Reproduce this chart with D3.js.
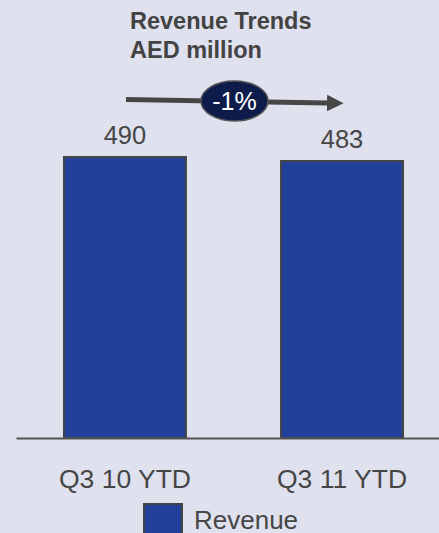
<!DOCTYPE html>
<html>
<head>
<meta charset="utf-8">
<script src="https://cdn.jsdelivr.net/npm/d3@7"></script>
<style>
  html, body { margin: 0; padding: 0; background: #dfe1ee; overflow: hidden; }
  svg { display: block; font-family: "Liberation Sans", Arial, sans-serif; }
</style>
</head>
<body>
<script>
// chart data
var categories = ['Q3 10 YTD', 'Q3 11 YTD'];
var revenue = [490, 483];
var titleLines = ['Revenue Trends', 'AED million'];
var changeLabel = '-1%';
var seriesName = 'Revenue';

var width = 439,
	height = 533;

var svg = d3.select('body')
	.append('svg')
	.attr('width', width)
	.attr('height', height);

svg.append('rect')
	.attr('width', width)
	.attr('height', height)
	.attr('fill', '#dfe1ee');

// scales
var x = d3.scaleBand()
	.domain(categories)
	.range([16, 451])
	.paddingInner(0.438)
	.paddingOuter(0.221);

var y = d3.scaleLinear()
	.domain([0, 500])
	.range([438, 151.25]);

var textColor = '#464646';

// title
svg.append('g')
	.selectAll('text')
	.data(titleLines)
	.enter().append('text')
	.attr('x', 130)
	.attr('y', function(d, i) { return 28.5 + i * 29; })
	.attr('font-size', '23.5px')
	.attr('font-weight', 'bold')
	.attr('fill', '#434343')
	.text(function(d) { return d; });

// bars
var data = categories.map(function(c, i) { return { cat: c, value: revenue[i] }; });

svg.append('g')
	.selectAll('rect')
	.data(data)
	.enter().append('rect')
	.attr('x', function(d) { return x(d.cat); })
	.attr('y', function(d) { return y(d.value); })
	.attr('width', x.bandwidth())
	.attr('height', function(d) { return y(0) - y(d.value); })
	.attr('fill', '#22409a')
	.attr('stroke', '#454545')
	.attr('stroke-width', 2);

// value labels
svg.append('g')
	.selectAll('text')
	.data(data)
	.enter().append('text')
	.attr('x', function(d) { return x(d.cat) + x.bandwidth() / 2; })
	.attr('y', function(d) { return y(d.value) - 13; })
	.attr('text-anchor', 'middle')
	.attr('font-size', '25.5px')
	.attr('fill', textColor)
	.text(function(d) { return d.value; });

// x axis
var xAxis = svg.append('g')
	.attr('transform', 'translate(0,' + y(0) + ')')
	.call(d3.axisBottom(x).tickSize(0).tickSizeOuter(0).tickPadding(31));

xAxis.select('.domain')
	.attr('stroke', '#555')
	.attr('stroke-width', 2);

xAxis.selectAll('text')
	.attr('font-family', '"Liberation Sans", Arial, sans-serif')
	.attr('font-size', '26.5px')
	.attr('fill', textColor);

// change arrow between the bars
var arrowY0 = 99.5, arrowY1 = 103;
var ax0 = x(categories[0]) + x.bandwidth() / 2 + 1,
	ax1 = x(categories[1]) + 1;

var defs = svg.append('defs');
defs.append('marker')
	.attr('id', 'head')
	.attr('viewBox', '0 0 10 10')
	.attr('refX', 0)
	.attr('refY', 5)
	.attr('markerWidth', 3.3)
	.attr('markerHeight', 3.3)
	.attr('markerUnits', 'strokeWidth')
	.attr('orient', 'auto')
	.append('path')
	.attr('d', 'M0,0 L10,5 L0,10 Z')
	.attr('fill', '#474747');

svg.append('line')
	.attr('x1', ax0)
	.attr('y1', arrowY0)
	.attr('x2', ax1 + 45)
	.attr('y2', arrowY1)
	.attr('stroke', '#474747')
	.attr('stroke-width', 5)
	.attr('marker-end', 'url(#head)');

var ex = 234.5, ey = 101;
svg.append('ellipse')
	.attr('cx', ex)
	.attr('cy', ey)
	.attr('rx', 33.5)
	.attr('ry', 20)
	.attr('fill', '#0d1c4b')
	.attr('stroke', '#555')
	.attr('stroke-width', 1.5);

svg.append('text')
	.attr('x', ex)
	.attr('y', ey + 9)
	.attr('text-anchor', 'middle')
	.attr('font-size', '25px')
	.attr('fill', '#fff')
	.text(changeLabel);

// legend
var legend = svg.append('g')
	.attr('transform', 'translate(144,504)');

legend.append('rect')
	.attr('width', 38)
	.attr('height', 38)
	.attr('fill', '#22409a')
	.attr('stroke', '#454545')
	.attr('stroke-width', 2);

legend.append('text')
	.attr('x', 50)
	.attr('y', 25)
	.attr('font-size', '26px')
	.attr('fill', textColor)
	.text(seriesName);
</script>
</body>
</html>
